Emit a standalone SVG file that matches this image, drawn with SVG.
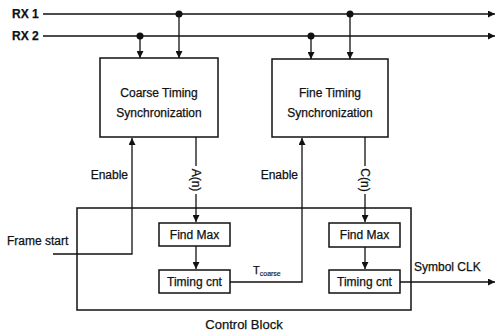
<svg xmlns="http://www.w3.org/2000/svg" width="496" height="334" viewBox="0 0 496 334">
<defs>
<marker id="ah" viewBox="0 0 10 10" refX="10" refY="5" markerWidth="7" markerHeight="7" markerUnits="userSpaceOnUse" orient="auto">
<path d="M0,0 L10,5 L0,10 Z" fill="#111"/>
</marker>
<style>
.box{fill:#fff;stroke:#111;stroke-width:1.5}
.ln{fill:none;stroke:#111;stroke-width:1.3}
.t{font-family:"Liberation Sans",Arial,sans-serif;font-size:12px;fill:#111;stroke:#111;stroke-width:0.25}
.b{font-weight:bold}
.dot{fill:#111}
</style>
</defs>
<rect width="496" height="334" fill="#fff"/>
<g id="control-block">
<rect class="box" x="77" y="208" width="334" height="102" fill="none"/>
<text class="t" x="244" y="329" text-anchor="middle" style="font-size:13px">Control Block</text>
</g>
<g id="connectors">
<line class="ln" x1="43" y1="14" x2="495" y2="14" marker-end="url(#ah)"/>
<line class="ln" x1="43" y1="36" x2="495" y2="36" marker-end="url(#ah)"/>
<circle class="dot" cx="179" cy="14" r="3.5"/>
<circle class="dot" cx="140" cy="36" r="3.5"/>
<circle class="dot" cx="350" cy="14" r="3.5"/>
<circle class="dot" cx="311" cy="36" r="3.5"/>
<line class="ln" x1="179" y1="14" x2="179" y2="58" marker-end="url(#ah)"/>
<line class="ln" x1="140" y1="36" x2="140" y2="58" marker-end="url(#ah)"/>
<line class="ln" x1="350" y1="14" x2="350" y2="59" marker-end="url(#ah)"/>
<line class="ln" x1="311" y1="36" x2="311" y2="59" marker-end="url(#ah)"/>
<polyline class="ln" points="53,254 132,254 132,138" marker-end="url(#ah)"/>
<line class="ln" x1="196" y1="137" x2="196" y2="166"/>
<line class="ln" x1="196" y1="194" x2="196" y2="222" marker-end="url(#ah)"/>
<line class="ln" x1="196" y1="246" x2="196" y2="269" marker-end="url(#ah)"/>
<polyline class="ln" points="230,282 302,282 302,138" marker-end="url(#ah)"/>
<line class="ln" x1="365" y1="137" x2="365" y2="166"/>
<line class="ln" x1="365" y1="194" x2="365" y2="222" marker-end="url(#ah)"/>
<line class="ln" x1="365" y1="247" x2="365" y2="269" marker-end="url(#ah)"/>
<line class="ln" x1="400" y1="282" x2="495" y2="282" marker-end="url(#ah)"/>
</g>
<g id="labels">
<text class="t b" x="12" y="18">RX 1</text>
<text class="t b" x="12" y="40">RX 2</text>
<text class="t" x="128" y="179" text-anchor="end">Enable</text>
<text class="t" x="298" y="179" text-anchor="end">Enable</text>
<text class="t" x="7" y="245">Frame start</text>
<text class="t" transform="translate(191.5,180) rotate(90)" text-anchor="middle">A(n)</text>
<text class="t" transform="translate(360.5,180) rotate(90)" text-anchor="middle">C(n)</text>
<text class="t" x="253" y="274" style="font-size:11px">T<tspan dy="2" style="font-size:7px;stroke-width:0.15">coarse</tspan></text>
<text class="t" x="414" y="271">Symbol CLK</text>
</g>
<g id="coarse-timing">
<rect class="box" x="100" y="58" width="118" height="79"/>
<text class="t" x="159" y="97" text-anchor="middle">Coarse Timing</text>
<text class="t" x="159" y="117" text-anchor="middle">Synchronization</text>
</g>
<g id="fine-timing">
<rect class="box" x="272" y="59" width="116" height="78"/>
<text class="t" x="330" y="97" text-anchor="middle">Fine Timing</text>
<text class="t" x="330" y="117" text-anchor="middle">Synchronization</text>
</g>
<g id="find-max-1">
<rect class="box" x="159" y="223" width="71" height="23"/>
<text class="t" x="194.5" y="239" text-anchor="middle">Find Max</text>
</g>
<g id="timing-cnt-1">
<rect class="box" x="159" y="270" width="71" height="23"/>
<text class="t" x="194.5" y="286" text-anchor="middle">Timing cnt</text>
</g>
<g id="find-max-2">
<rect class="box" x="329" y="223" width="71" height="24"/>
<text class="t" x="364.5" y="239" text-anchor="middle">Find Max</text>
</g>
<g id="timing-cnt-2">
<rect class="box" x="329" y="270" width="71" height="23"/>
<text class="t" x="364.5" y="286" text-anchor="middle">Timing cnt</text>
</g>
</svg>
